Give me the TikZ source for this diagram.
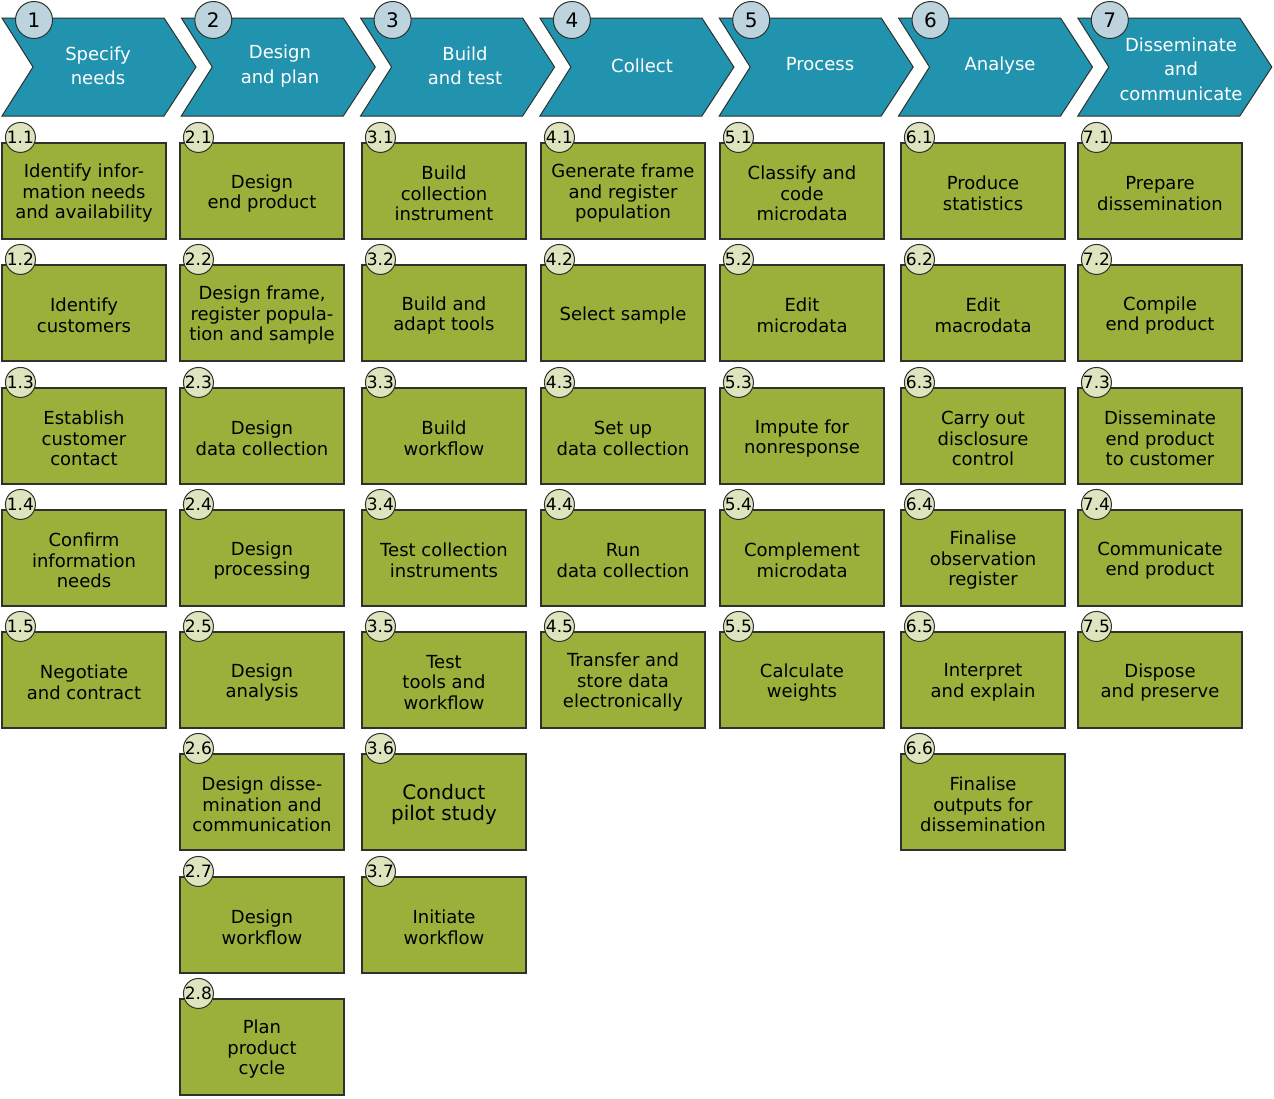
\documentclass[tikz,border=0pt]{standalone}
\usepackage{fontspec}
\setmainfont{DejaVu Sans}
\usetikzlibrary{calc}
\definecolor{chevfill}{RGB}{34,147,174}
\definecolor{boxfill}{RGB}{154,176,58}
\definecolor{mainfill}{RGB}{189,212,222}
\definecolor{subfill}{RGB}{221,228,190}
\definecolor{lineclr}{RGB}{45,50,45}
\def\colx{{2,180,362,541,720,901,1078}}
\def\rowy{{143,265,388,510,632,754,877,999}}
\newcommand\chevron[5][66]{%
  \draw[chev] (#3,18) -- (#3+162,18) -- (#3+194,67) -- (#3+162,116) -- (#3,116) -- (#3+31,67) -- cycle;
  \node[chevtext] (h#2) at (#4,#1) {#5};
  \node[mainnum] (n#2) at (#3+32,20) {#2};
}
\newcommand\gbox[2]{%
  \pgfmathsetmacro\bx{\colx[#1-1]+82}%
  \pgfmathsetmacro\by{\rowy[#2-1]+48}%
}
\newcommand\gboxnode[4][]{%
  \gbox{#2}{#3}%
  \node[box] (b#2#3) at (\bx,\by) {};
  \node[boxtext,#1] (t#2#3) at ($(b#2#3.center)+(0,2.5)$) {#4};
  \node[subnum] (s#2#3) at ($(b#2#3.north west)+(19,-5)$) {#2.#3};
}
\begin{document}
\begin{tikzpicture}[x=1pt,y=-1pt,
  box/.style={draw=lineclr, line width=1.1pt, fill=boxfill, minimum width=164pt, minimum height=96pt, inner sep=0pt},
  boxtext/.style={align=center, inner sep=0pt, font=\fontsize{18}{20.5}\selectfont, text=black},
  subnum/.style={circle, draw=lineclr, line width=1pt, fill=subfill, minimum size=30pt, inner sep=0pt, font=\fontsize{17}{17}\selectfont},
  mainnum/.style={circle, draw=lineclr, line width=1pt, fill=mainfill, minimum size=37pt, inner sep=0pt, font=\fontsize{20}{20}\selectfont},
  chev/.style={draw=lineclr, line width=1pt, fill=chevfill},
  chevtext/.style={text=white, align=center, font=\fontsize{18}{24.5}\selectfont}]
\fill[white] (0,0) rectangle (1274,1098);
\useasboundingbox (0,0) rectangle (1274,1098);
\chevron{1}{2}{98}{Specify\\needs}
\chevron{2}{181.3}{280}{Design\\and plan}
\chevron{3}{360.6}{465}{Build\\and test}
\chevron{4}{539.9}{642}{Collect}
\chevron[64]{5}{719.2}{820}{Process}
\chevron[66]{6}{898.5}{1000}{Analyse}
\chevron[69]{7}{1077.8}{1181}{Disseminate\\and\\communicate}
% column 1
\gboxnode{1}{1}{Identify infor-\\mation needs\\and availability}
\gboxnode{1}{2}{Identify\\customers}
\gboxnode{1}{3}{Establish\\customer\\contact}
\gboxnode{1}{4}{Confirm\\information\\needs}
\gboxnode{1}{5}{Negotiate\\and contract}
% column 2
\gboxnode{2}{1}{Design\\end product}
\gboxnode{2}{2}{Design frame,\\register popula-\\tion and sample}
\gboxnode{2}{3}{Design\\data collection}
\gboxnode{2}{4}{Design\\processing}
\gboxnode{2}{5}{Design\\analysis}
\gboxnode{2}{6}{Design disse-\\mination and\\communication}
\gboxnode{2}{7}{Design\\workflow}
\gboxnode{2}{8}{Plan\\product\\cycle}
% column 3
\gboxnode{3}{1}{Build\\collection\\instrument}
\gboxnode{3}{2}{Build and\\adapt tools}
\gboxnode{3}{3}{Build\\workflow}
\gboxnode{3}{4}{Test collection\\instruments}
\gboxnode{3}{5}{Test\\tools and\\workflow}
\gboxnode[font=\fontsize{20}{21}\selectfont]{3}{6}{Conduct\\pilot study}
\gboxnode{3}{7}{Initiate\\workflow}
% column 4
\gboxnode{4}{1}{Generate frame\\and register\\population}
\gboxnode{4}{2}{Select sample}
\gboxnode{4}{3}{Set up\\data collection}
\gboxnode{4}{4}{Run\\data collection}
\gboxnode{4}{5}{Transfer and\\store data\\electronically}
% column 5
\gboxnode{5}{1}{Classify and\\code\\microdata}
\gboxnode{5}{2}{Edit\\microdata}
\gboxnode{5}{3}{Impute for\\nonresponse}
\gboxnode{5}{4}{Complement\\microdata}
\gboxnode{5}{5}{Calculate\\weights}
% column 6
\gboxnode{6}{1}{Produce\\statistics}
\gboxnode{6}{2}{Edit\\macrodata}
\gboxnode{6}{3}{Carry out\\disclosure\\control}
\gboxnode{6}{4}{Finalise\\observation\\register}
\gboxnode{6}{5}{Interpret\\and explain}
\gboxnode{6}{6}{Finalise\\outputs for\\dissemination}
% column 7
\gboxnode{7}{1}{Prepare\\dissemination}
\gboxnode{7}{2}{Compile\\end product}
\gboxnode{7}{3}{Disseminate\\end product\\to customer}
\gboxnode{7}{4}{Communicate\\end product}
\gboxnode{7}{5}{Dispose\\and preserve}
\end{tikzpicture}
\end{document}
